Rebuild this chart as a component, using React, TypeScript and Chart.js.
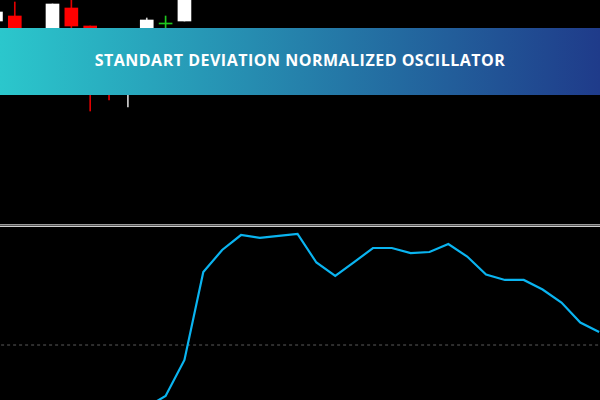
import React, { useEffect, useRef } from "react";
import { Chart, registerables } from "chart.js";

Chart.register(...registerables);

// ---- Price pane (candles) ----
const candleIndex = [-1, 0, 1, 2, 3, 4, 5, 6, 7, 8, 9];
const opens = [1.0979, 1.0984, 1.096, 1.0952, 1.0992, 1.0974, 1.095, 1.0914, 1.0955, 1.0976, 1.0979];
const highs = [1.0991, 1.0998, 1.0967, 1.0996, 1.1001, 1.0974, 1.0955, 1.0962, 1.0982, 1.0984, 1.1022];
const lows = [1.0976, 1.0956, 1.093, 1.0945, 1.0962, 1.0889, 1.09, 1.0893, 1.094, 1.0945, 1.0979];
const closes = [1.0988, 1.0964, 1.0938, 1.0996, 1.0974, 1.092, 1.0912, 1.0955, 1.098, 1.0976, 1.1015];
const priceMin = 1.0776;
const priceMax = 1.1;

// ---- Oscillator pane ----
const oscIndex = [0, 1, 2, 3, 4, 5, 6, 7, 8, 9, 10, 11, 12, 13, 14, 15, 16, 17, 18, 19, 20, 21, 22, 23, 24, 25, 26, 27, 28, 29, 30, 31];
const oscValues = [
  -60, -64, -70, -72, -68, -63, -58, -53, -43.6, -12.8, 62.4, 81.2, 94.0, 91.5, 93.2, 94.9,
  70.5, 59.0, 70.9, 82.9, 82.9, 78.6, 79.5, 86.3, 75.6, 60.3, 55.6, 55.6, 47.4, 36.3, 19.2, 11.1,
];
const levelValues = [0];
const oscMin = -47;
const oscMax = 100;

const titleText = "STANDART DEVIATION NORMALIZED OSCILLATOR";

const xMin = -0.785;
const xMax = 31.045;

function candleColor(i: number) {
  if (closes[i] > opens[i]) return "#ffffff";
  if (closes[i] < opens[i]) return "#ff0000";
  return "#1fc81f";
}
function wickColor(i: number) {
  if (closes[i] > opens[i]) return "#d0d0d0";
  if (closes[i] < opens[i]) return "#e00000";
  return "#1fc81f";
}

export default function App() {
  const priceRef = useRef<HTMLCanvasElement>(null);
  const oscRef = useRef<HTMLCanvasElement>(null);

  useEffect(() => {
    const xScale = {
      type: "linear" as const,
      min: xMin,
      max: xMax,
      offset: false,
      display: false,
      grid: { display: false, offset: false },
    };

    const priceChart = new Chart(priceRef.current!, {
      type: "bar",
      data: {
        datasets: [
          {
            label: "body",
            data: candleIndex.map((x, i) => ({ x, y: [opens[i], closes[i]] })) as any,
            backgroundColor: candleIndex.map((_, i) => candleColor(i)),
            borderWidth: 0,
            barThickness: 13,
            minBarLength: 1,
            grouped: false,
          } as any,
          {
            label: "wick",
            data: candleIndex.map((x, i) => ({ x, y: [lows[i], highs[i]] })) as any,
            backgroundColor: candleIndex.map((_, i) => wickColor(i)),
            borderWidth: 0,
            barThickness: 1,
            grouped: false,
          } as any,
        ],
      },
      options: {
        animation: false,
        responsive: false,
        maintainAspectRatio: false,
        layout: { padding: 0 },
        plugins: { legend: { display: false }, tooltip: { enabled: false }, title: { display: false } },
        scales: {
          x: xScale as any,
          y: { min: priceMin, max: priceMax, display: false, grid: { display: false } },
        },
      },
    });

    const oscChart = new Chart(oscRef.current!, {
      type: "line",
      data: {
        datasets: [
          {
            label: "oscillator",
            data: oscIndex.map((x, i) => ({ x, y: oscValues[i] })),
            borderColor: "#0ab4f0",
            borderWidth: 2.2,
            pointRadius: 0,
            tension: 0,
            fill: false,
          },
          {
            label: "level",
            data: [
              { x: oscIndex[0] - 2, y: levelValues[0] },
              { x: oscIndex[oscIndex.length - 1] + 2, y: levelValues[0] },
            ],
            borderColor: "#5a5a5a",
            borderWidth: 1,
            borderDash: [3, 3],
            pointRadius: 0,
            fill: false,
          },
        ],
      },
      options: {
        animation: false,
        responsive: false,
        maintainAspectRatio: false,
        layout: { padding: 0 },
        plugins: { legend: { display: false }, tooltip: { enabled: false }, title: { display: false } },
        scales: {
          x: xScale as any,
          y: { min: oscMin, max: oscMax, display: false, grid: { display: false } },
        },
      },
    });

    return () => {
      priceChart.destroy();
      oscChart.destroy();
    };
  }, []);

  return (
    <div
      style={{
        position: "fixed",
        left: 0,
        top: 0,
        width: 600,
        height: 400,
        background: "#000000",
        overflow: "hidden",
      }}
    >
      <canvas
        ref={priceRef}
        width={600}
        height={224}
        style={{ position: "absolute", left: 0, top: 0, width: 600, height: 224 }}
      />
      <div style={{ position: "absolute", left: 0, top: 224, width: 600, height: 1, background: "#9a9a9a" }} />
      <div style={{ position: "absolute", left: 0, top: 225, width: 600, height: 1, background: "#555555" }} />
      <div style={{ position: "absolute", left: 0, top: 226, width: 600, height: 1, background: "#cfcfcf" }} />
      <canvas
        ref={oscRef}
        width={600}
        height={172}
        style={{ position: "absolute", left: 0, top: 228, width: 600, height: 172 }}
      />
      <div
        style={{
          position: "absolute",
          left: 0,
          top: 28,
          width: 600,
          height: 67,
          background: "linear-gradient(90deg, #2bc7cc 0%, #1f3b8a 100%)",
          display: "flex",
          alignItems: "center",
          justifyContent: "center",
          color: "#ffffff",
          fontFamily: "'Open Sans', sans-serif",
          fontWeight: 700,
          fontSize: 16,
          letterSpacing: 0.5,
          paddingBottom: 3,
          boxSizing: "border-box",
          whiteSpace: "nowrap",
        }}
      >
        {titleText}
      </div>
    </div>
  );
}
